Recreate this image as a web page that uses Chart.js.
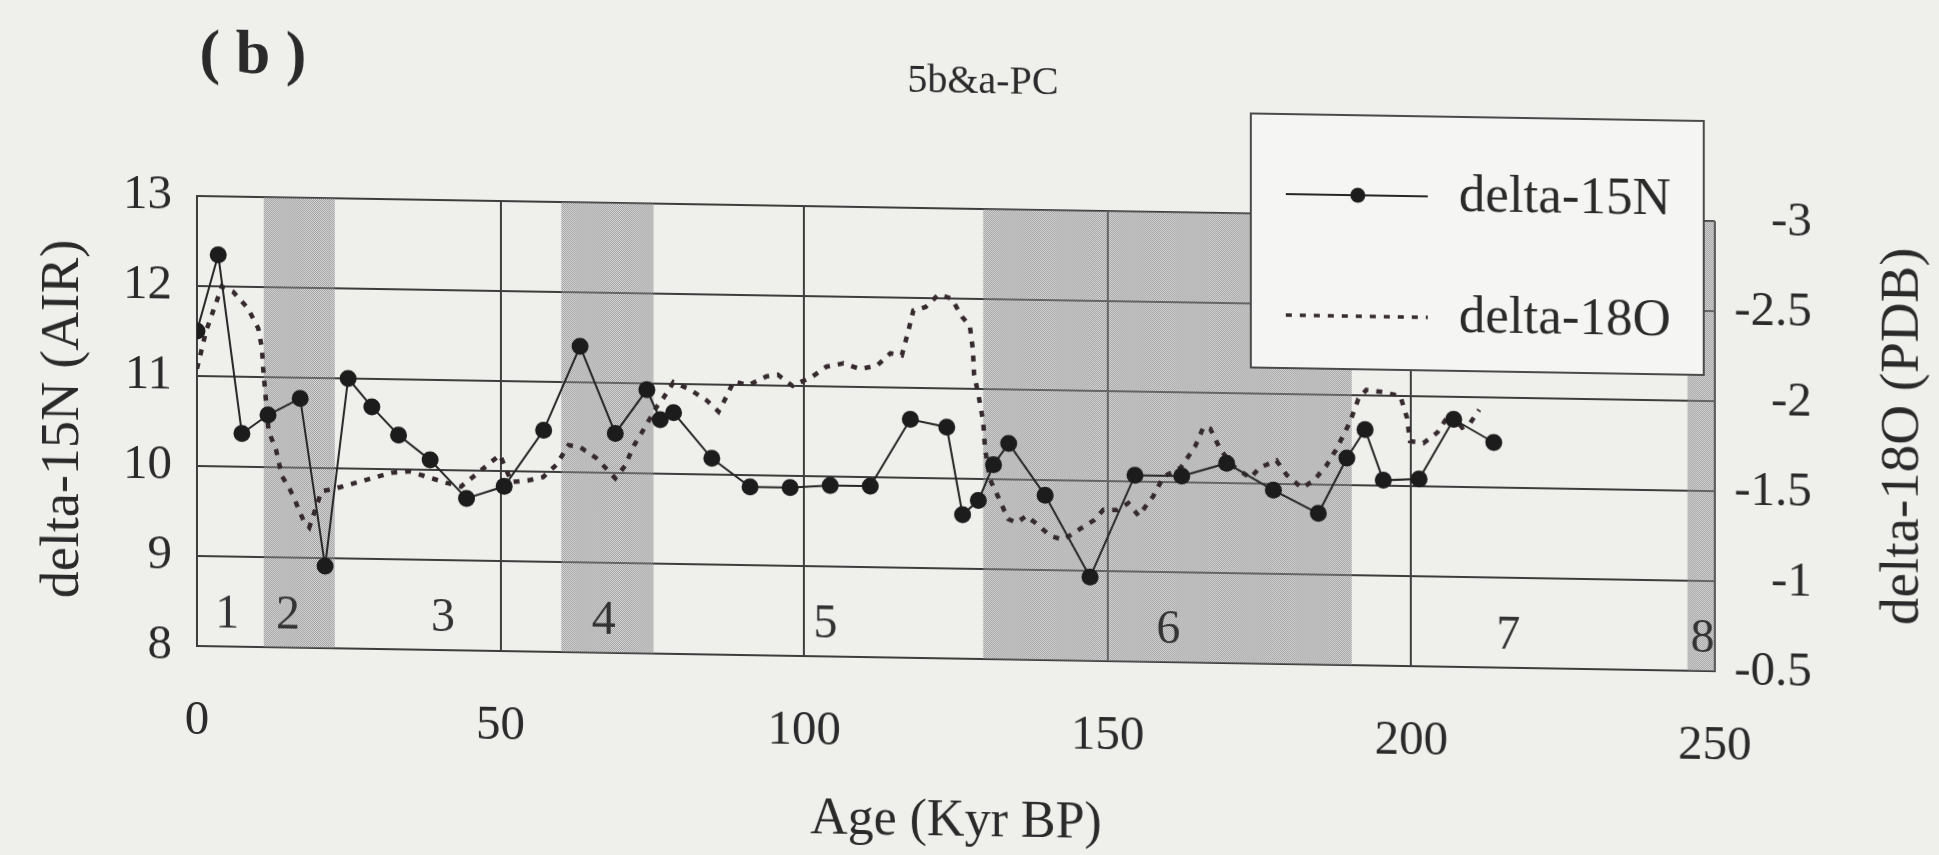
<!DOCTYPE html>
<html>
<head>
<meta charset="utf-8">
<title>5b&amp;a-PC</title>
<script src="https://cdn.jsdelivr.net/npm/chart.js@4.4.1/dist/chart.umd.min.js"></script>
<style>
  html, body { margin: 0; padding: 0; background: #efefec; overflow: hidden; }
  /* the printed panel sits slightly askew, right side lower */
  canvas { display: block; transform: skewY(0.95deg); transform-origin: 197px 0; }
</style>
</head>
<body>
<canvas id="isotopeChart" width="1939" height="855"></canvas>
<script>
// core 5b&a-PC: bulk nitrogen isotopes vs. planktonic oxygen isotopes
const ageN = [0, 3.5, 7.4, 11.7, 17.0, 21.1, 24.9, 28.8, 33.2, 38.4, 44.4, 50.6,
  57.1, 63.1, 68.9, 74.1, 76.3, 78.5, 84.8, 91.1, 97.7, 104.3, 110.9, 117.5,
  123.5, 126.1, 128.7, 131.2, 133.7, 139.7, 147.1, 154.5, 162.2, 169.6, 177.3,
  184.7, 189.4, 192.4, 195.4, 201.3, 207.0, 213.6];
const d15N = [11.5, 12.35, 10.37, 10.58, 10.77, 8.91, 11.0, 10.69, 10.38, 10.11, 9.69, 9.83,
  10.46, 11.4, 10.44, 10.93, 10.6, 10.68, 10.18, 9.87, 9.87, 9.9, 9.9, 10.65,
  10.57, 9.6, 9.76, 10.16, 10.4, 9.83, 8.93, 10.07, 10.07, 10.22, 9.93,
  9.68, 10.3, 10.62, 10.06, 10.08, 10.75, 10.5];

const ageO = [0, 1.5, 4.1, 6.0, 8.4, 10.1, 10.7, 10.9, 11.8, 13.0, 14.0, 15.0, 16.0, 17.5, 18.5,
  20.5, 23.0, 26.0, 29.0, 32.0, 35.0, 38.0, 41.0, 43.5, 46.0, 49.9, 51.8, 54.5, 57.0,
  59.2, 61.2, 63.1, 65.8, 68.9, 70.5, 71.9, 73.5, 75.7, 76.8, 78.5, 81.2, 84.0, 85.9,
  87.3, 88.4, 90.8, 93.8, 95.7, 98.1, 101.2, 103.7, 106.5, 109.2, 112.0, 114.2, 116.1,
  117.2, 118.0, 120.0, 122.1, 124.3, 126.0, 127.3, 127.8, 128.0, 128.7, 129.5, 129.8,
  130.6, 132.0, 133.6, 135.0, 136.6, 138.9, 140.5, 142.7, 144.9, 147.7, 149.3, 151.5,
  153.4, 155.1, 157.5, 159.2, 162.0, 164.4, 165.8, 166.9, 168.5, 170.5, 173.5, 175.1,
  177.8, 179.5, 182.0, 183.9, 186.1, 187.7, 189.9, 191.3, 192.6, 195.4, 198.2, 199.3,
  199.8, 202.0, 204.3, 206.4, 208.4, 209.6, 211.2];
const d18O = [-2.04, -2.25, -2.5, -2.47, -2.38, -2.27, -2.16, -2.05, -1.7, -1.6, -1.45, -1.4, -1.33, -1.21, -1.17,
  -1.37, -1.39, -1.42, -1.45, -1.48, -1.49, -1.46, -1.43, -1.41, -1.48, -1.59, -1.44, -1.45, -1.47,
  -1.54, -1.65, -1.64, -1.58, -1.47, -1.54, -1.65, -1.74, -1.87, -1.92, -2.01, -1.97, -1.91, -1.85,
  -1.94, -2.02, -2.0, -2.05, -2.06, -2.0, -2.05, -2.11, -2.13, -2.1, -2.12, -2.19, -2.18,
  -2.32, -2.43, -2.45, -2.52, -2.5, -2.4, -2.35, -2.22, -2.08, -1.97, -1.82, -1.67,
  -1.5, -1.4, -1.28, -1.26, -1.3, -1.24, -1.19, -1.17, -1.22, -1.28, -1.34, -1.34,
  -1.38, -1.31, -1.42, -1.53, -1.58, -1.7, -1.81, -1.8, -1.69, -1.6, -1.53, -1.59,
  -1.63, -1.55, -1.48, -1.52, -1.61, -1.7, -1.85, -1.98, -2.03, -2.02, -2.0, -1.88,
  -1.75, -1.74, -1.8, -1.91, -1.83, -1.85, -1.93];

// marine isotope stages, glacial ones shaded
const stageNames = ['1', '2', '3', '4', '5', '6', '7', '8'];
const stageAges = [5, 15, 40.5, 67, 103.5, 160, 216, 248];
const glacialStart = [11, 60, 129.5, 245.5];
const glacialEnd = [22.7, 75.2, 190.2, 250];

const serif = "'Liberation Serif', 'Times New Roman', serif";
const ink = '#2a2a2a';

Chart.defaults.font.family = serif;
Chart.defaults.color = ink;

const canvas = document.getElementById('isotopeChart');
const ctx = canvas.getContext('2d');

// checkered dot screen for the glacial bands
function makeStipple() {
    const c = document.createElement('canvas');
    c.width = 2;
    c.height = 2;
    const g = c.getContext('2d');
    g.fillStyle = 'rgba(180,178,182,0.3)';
    g.fillRect(0, 0, 2, 2);
    g.fillStyle = 'rgba(112,110,114,0.6)';
    g.fillRect(0, 0, 1, 1);
    g.fillRect(1, 1, 1, 1);
    return ctx.createPattern(c, 'repeat');
}
const stipple = makeStipple();

const decorations = {
    id: 'decorations',
    beforeDatasetsDraw(chart) {
        const { ctx, chartArea, scales: { x, y } } = chart;
        ctx.save();
        ctx.beginPath();
        ctx.rect(chartArea.left, chartArea.top, chartArea.width, chartArea.height);
        ctx.clip();
        ctx.fillStyle = stipple;
        glacialStart.forEach((s, i) => {
            const x0 = x.getPixelForValue(s);
            const x1 = x.getPixelForValue(glacialEnd[i]);
            ctx.fillRect(x0, chartArea.top, x1 - x0, chartArea.height);
        });
        ctx.fillStyle = '#333';
        ctx.font = '48px ' + serif;
        ctx.textAlign = 'center';
        ctx.textBaseline = 'middle';
        stageNames.forEach((n, i) => {
            ctx.fillText(n, x.getPixelForValue(stageAges[i]), y.getPixelForValue(8.35));
        });
        ctx.restore();
    },
    afterDraw(chart) {
        const { ctx } = chart;
        ctx.save();
        ctx.fillStyle = ink;
        ctx.textAlign = 'center';
        ctx.textBaseline = 'middle';

        // panel letter and core name
        ctx.font = 'bold 62px ' + serif;
        ctx.fillText('( b )', 253, 56);
        ctx.font = '40px ' + serif;
        ctx.fillText('5b&a-PC', 983, 69);

        // right axis title, reading upwards
        ctx.save();
        ctx.translate(1904, 408);
        ctx.rotate(-Math.PI / 2);
        ctx.font = '55px ' + serif;
        ctx.fillText('delta-18O (PDB)', 0, 0);
        ctx.restore();

        // legend box
        ctx.fillStyle = '#f5f5f3';
        ctx.fillRect(1251, 96, 453, 254);
        ctx.strokeStyle = '#4a4a4a';
        ctx.lineWidth = 2;
        ctx.strokeRect(1251, 96, 453, 254);

        const rows = [176, 297];
        chart.data.datasets.forEach((ds, i) => {
            const ly = rows[i];
            ctx.strokeStyle = ds.borderColor;
            ctx.lineWidth = Math.min(ds.borderWidth, 3.5);
            ctx.setLineDash(ds.borderDash || []);
            ctx.beginPath();
            ctx.moveTo(1286, ly);
            ctx.lineTo(1428, ly);
            ctx.stroke();
            ctx.setLineDash([]);
            if (ds.pointRadius > 0) {
                ctx.fillStyle = ds.pointBackgroundColor;
                ctx.beginPath();
                ctx.arc(1358, ly, 7.5, 0, Math.PI * 2);
                ctx.fill();
            }
            ctx.fillStyle = ink;
            ctx.textAlign = 'left';
            ctx.font = '53px ' + serif;
            ctx.fillText(ds.label, 1459, ly);
        });
        ctx.restore();
    }
};

const gridColor = '#3d3d3d';

new Chart(ctx, {
    type: 'line',
    data: {
        datasets: [
            {
                label: 'delta-15N',
                data: ageN.map((a, i) => ({ x: a, y: d15N[i] })),
                yAxisID: 'y',
                borderColor: '#262626',
                borderWidth: 2,
                pointRadius: 8.5,
                pointBackgroundColor: '#1c1c1c',
                pointBorderWidth: 0,
                tension: 0
            },
            {
                label: 'delta-18O',
                data: ageO.map((a, i) => ({ x: a, y: d18O[i] })),
                yAxisID: 'y1',
                borderColor: '#35292d',
                borderWidth: 4.5,
                borderDash: [6, 8],
                pointRadius: 0,
                tension: 0
            }
        ]
    },
    options: {
        responsive: false,
        animation: false,
        events: [],
        layout: { padding: { top: 196, right: 127, bottom: 0, left: 0 } },
        plugins: {
            legend: { display: false },
            tooltip: { enabled: false }
        },
        scales: {
            x: {
                type: 'linear',
                min: 0,
                max: 250,
                afterFit: (s) => { s.height = 209; },
                ticks: { stepSize: 50, padding: 46, font: { size: 49 }, color: ink },
                grid: { color: gridColor, lineWidth: 2, drawTicks: false },
                border: { color: gridColor, width: 2 },
                title: { display: true, text: 'Age (Kyr BP)', font: { size: 52 }, padding: { bottom: 14 } }
            },
            y: {
                position: 'left',
                min: 8,
                max: 13,
                afterFit: (s) => { s.width = 197; },
                ticks: { stepSize: 1, padding: 25, font: { size: 49 }, color: ink },
                grid: { color: gridColor, lineWidth: 2, drawTicks: false },
                border: { color: gridColor, width: 2 },
                title: { display: true, text: 'delta-15N (AIR)', font: { size: 54 }, padding: { top: 31 } }
            },
            y1: {
                position: 'right',
                min: -3,
                max: -0.5,
                reverse: true,
                afterFit: (s) => { s.width = 97; },
                ticks: {
                    stepSize: 0.5,
                    crossAlign: 'far',
                    font: { size: 49 },
                    color: ink,
                    callback: (v) => String(v)
                },
                grid: { display: false, drawTicks: false },
                border: { display: false }
            }
        }
    },
    plugins: [decorations]
});
</script>
</body>
</html>
